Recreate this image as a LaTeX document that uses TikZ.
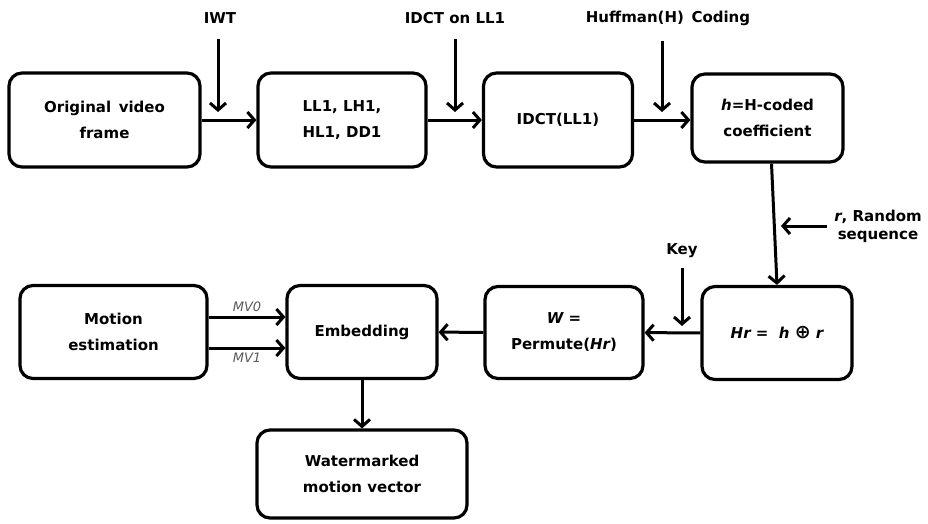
\documentclass[tikz,border=0pt]{standalone}
\usepackage{fontspec}
\setmainfont{DejaVu Sans}
\usetikzlibrary{arrows.meta}

\tikzset{
  block/.style={draw, line width=3.2pt, rounded corners=13pt, align=center,
    font=\bfseries\fontsize{15}{26}\selectfont, inner sep=2pt},
  lbl/.style={font=\bfseries\fontsize{15}{18}\selectfont, align=center},
  mvlbl/.style={font=\itshape\fontsize{13}{15}\selectfont, text=black!65},
  conn/.style={->, line width=3pt},
  >={Straight Barb[length=7pt,width=16pt]},
}

\begin{document}
\begin{tikzpicture}[x=1pt,y=-1pt]
	\useasboundingbox (0,0) rectangle (928,523);
	% top row
	\node[block, minimum width=191pt, minimum height=94pt] (orig) at (104.5,120) {Original\enspace video\\frame};
	\node[block, minimum width=168pt, minimum height=94pt] (bands) at (342,120) {LL1, LH1,\\HL1, DD1};
	\node[block, minimum width=149pt, minimum height=94pt] (idct) at (558,120) {IDCT(LL1)};
	\node[block, minimum width=151pt, minimum height=88pt] (coef) at (767.5,118) {{\itshape h}=H-coded\\coefficient};
	% bottom row
	\node[block, minimum width=150pt, minimum height=93pt] (hr) at (777,333) {{\itshape Hr =\ \ h} {\fontsize{19}{19}\selectfont ⊕} {\itshape r}};
	\node[block, minimum width=158pt, minimum height=92pt] (perm) at (564,332.5) {{\itshape W =}\\Permute({\itshape Hr})};
	\node[block, minimum width=150pt, minimum height=93pt] (embed) at (362,332) {Embedding};
	\node[block, minimum width=187pt, minimum height=93pt] (motion) at (113.5,332) {Motion\\estimation};
	\node[block, minimum width=210pt, minimum height=88pt] (wm) at (362,474) {Watermarked\\motion vector};
	% side inputs
	\node[lbl] (iwt) at (220,18) {IWT};
	\node[lbl] (idcton) at (455,18) {IDCT on LL1};
	\node[lbl] (huff) at (668,18) {Huffman(H)\enspace Coding};
	\node[lbl] (rnd) at (878,226) {{\itshape r}, Random\\sequence};
	\node[lbl] (key) at (682,251) {Key};
	\coordinate (iwtend) at (218,112);
	\coordinate (idctend) at (455,112);
	\coordinate (huffend) at (662,112);
	\coordinate (rndend) at (781,226);
	\coordinate (keyend) at (682,326);
	\draw[conn, shorten <=12pt] (iwtend |- iwt.south) -- (iwtend);
	\draw[conn, shorten <=12pt] (idcton) -- (idctend);
	\draw[conn, shorten <=12pt] (huff.south -| huffend) -- (huffend);
	\draw[conn, shorten <=4pt] (rnd.west |- rndend) -- (rndend);
	\draw[conn, shorten <=6pt] (key) -- (keyend);
	% main flow
	\draw[conn] (orig) -- (bands);
	\draw[conn] (bands) -- (idct);
	\draw[conn] (idct) -- (coef.west |- idct);
	\draw[conn] ([xshift=4pt]coef.south) -- (hr.north);
	\draw[conn] (hr) -- (perm);
	\draw[conn] (perm) -- (embed);
	\draw[conn] ([yshift=15pt]motion.east) -- node[mvlbl, above] {MV0} ([yshift=15pt]embed.west);
	\draw[conn] ([yshift=-16pt]motion.east) -- node[mvlbl, below] {MV1} ([yshift=-16pt]embed.west);
	\draw[conn] (embed) -- (wm);
\end{tikzpicture}
\end{document}
